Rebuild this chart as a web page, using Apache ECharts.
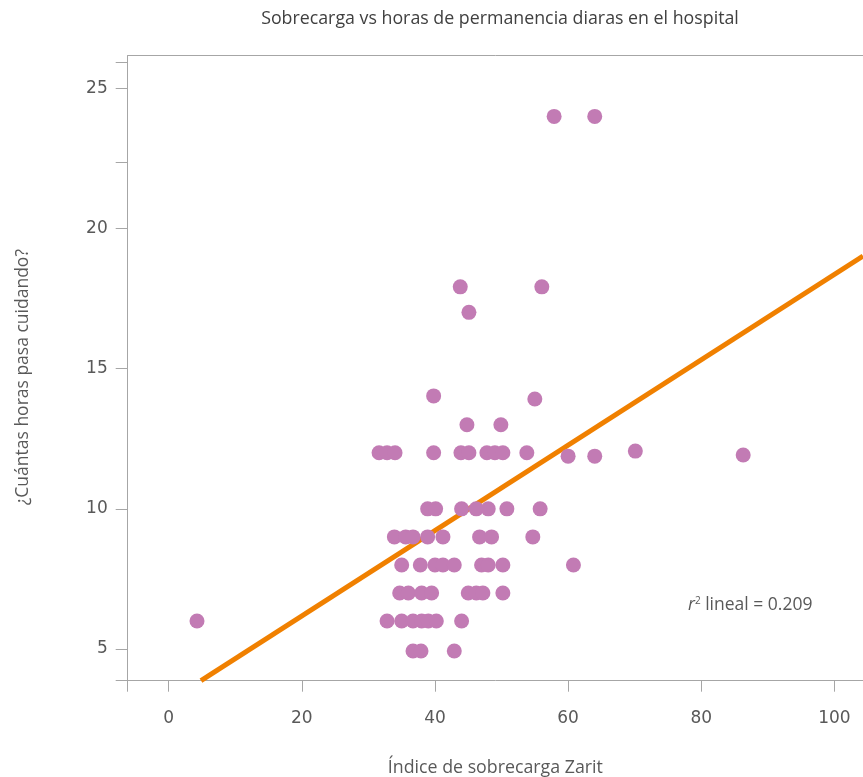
<!DOCTYPE html>
<html>
<head>
<meta charset="utf-8">
<script src="https://cdn.jsdelivr.net/npm/echarts@6/dist/echarts.min.js"></script>
<style>html,body{margin:0;padding:0;background:#fff}#c{width:863px;height:777px}</style>
</head>
<body>
<div id="c"></div>
<script>
// Scatter points: Zarit index (x) and hours per day (y)
const zaritValues = [
  57.9, 64.0,
  43.8, 56.05,
  45.1,
  39.8, 55.0,
  44.8, 49.9,
  31.6, 32.8, 34.0, 39.8, 43.9, 45.1, 47.8, 49.0, 50.2, 53.8, 60.0, 64.0, 70.1, 86.3,
  38.9, 40.1, 44.0, 46.2, 48.0, 50.8, 55.8,
  33.9, 35.6, 36.7, 38.9, 41.2, 46.7, 48.5, 54.7,
  35.0, 37.8, 40.0, 41.2, 42.9, 47.0, 48.0, 50.2, 60.8,
  34.7, 36.0, 38.0, 39.5, 45.0, 46.2, 47.2, 50.2,
  4.25, 32.8, 35.0, 36.7, 38.0, 39.0, 40.2, 44.0,
  36.7, 37.9, 42.9
];
const hoursValues = [
  24, 24,
  17.92, 17.92,
  17.01,
  14.03, 13.92,
  13, 13,
  12, 12, 12, 12, 12, 12, 12, 12, 12, 12, 11.88, 11.88, 12.06, 11.92,
  10, 10, 10, 10, 10, 10, 10,
  9, 9, 9, 9, 9, 9, 9, 9,
  8, 8, 8, 8, 8, 8, 8, 8, 8,
  7, 7, 7, 7, 7, 7, 7, 7,
  6, 6, 6, 6, 6, 6, 6, 6,
  4.93, 4.93, 4.93
];
// Fitted linear line endpoints
const fitX = [4.85, 104.3];
const fitY = [3.87, 19.02];

const xTickValues = [-6.16, 0, 20, 40, 60, 80, 100];
const xLabelValues = [0, 20, 40, 60, 80, 100];
const yTickValues = [3.87, 5, 10, 15, 20, 22.35, 25, 25.93];
const yLabelValues = [5, 10, 15, 20, 25];

const FONT = 'Open Sans';
const NUMFONT = 'DejaVu Sans';
const axisColor = '#a6a6a6';
const labelColor = '#595959';

const points = zaritValues.map((x, i) => [x, hoursValues[i]]);
const fitLine = fitX.map((x, i) => [x, fitY[i]]);

const chart = echarts.init(document.getElementById('c'), null, {renderer: 'canvas'});
chart.setOption({
  animation: false,
  backgroundColor: '#fff',
  title: [
    {
      text: 'Sobrecarga vs horas de permanencia diaras en el hospital',
      left: 495, top: 5, textAlign: 'center',
      textStyle: {fontFamily: FONT, fontSize: 17.8, fontWeight: 'normal', color: '#404040'}
    },
    {
      text: '{r|r}{s|2}{t| lineal = 0.209}',
      left: 683, top: 591,
      textStyle: {
        fontWeight: 'normal',
        rich: {
          r: {fontFamily: FONT, fontSize: 17.5, fontStyle: 'italic', fontWeight: 'normal', color: labelColor},
          s: {fontFamily: FONT, fontSize: 10, fontWeight: 'normal', color: labelColor, verticalAlign: 'top', padding: [0, 0, 9, 0]},
          t: {fontFamily: FONT, fontSize: 17.5, fontWeight: 'normal', color: labelColor}
        }
      }
    }
  ],
  grid: {left: 127.7, right: 0, top: 55.6, bottom: 96.3, containLabel: false, outerBoundsMode: 'none'},
  xAxis: [
    {
      type: 'value', min: -6.16, max: 104.3,
      name: 'Índice de sobrecarga Zarit', nameLocation: 'middle', nameGap: 78,
      nameTextStyle: {fontFamily: FONT, fontSize: 17.8, color: labelColor},
      axisLine: {show: true, onZero: false, lineStyle: {color: axisColor, width: 1}},
      axisTick: {show: true, length: 11, customValues: xTickValues, lineStyle: {color: axisColor}},
      axisLabel: {customValues: xLabelValues, fontFamily: NUMFONT, fontSize: 17, color: labelColor, margin: 29},
      splitLine: {show: false}
    },
    {
      type: 'value', position: 'top', min: -6.16, max: 104.3,
      axisLine: {show: true, onZero: false, lineStyle: {color: axisColor, width: 1}},
      axisTick: {show: false}, axisLabel: {show: false}, splitLine: {show: false}
    }
  ],
  yAxis: {
    type: 'value', min: 3.87, max: 26.17,
    name: '¿Cuántas horas pasa cuidando?', nameLocation: 'middle', nameGap: 96, nameRotate: 90,
    nameTextStyle: {fontFamily: FONT, fontSize: 17.5, color: labelColor, padding: [0, 18, 0, 0]},
    axisLine: {show: true, onZero: false, lineStyle: {color: axisColor, width: 1}},
    axisTick: {show: true, length: 12, customValues: yTickValues, lineStyle: {color: axisColor}},
    axisLabel: {customValues: yLabelValues, fontFamily: NUMFONT, fontSize: 17, color: labelColor, margin: 20},
    splitLine: {show: false}
  },
  series: [
    {
      type: 'line', data: fitLine, showSymbol: false, symbol: 'none',
      lineStyle: {color: '#F08000', width: 5}, z: 3, silent: true
    },
    {
      type: 'scatter', data: points, symbol: 'circle', symbolSize: 15,
      itemStyle: {color: '#C27BB4', opacity: 1}, z: 4
    }
  ]
});
</script>
</body>
</html>
